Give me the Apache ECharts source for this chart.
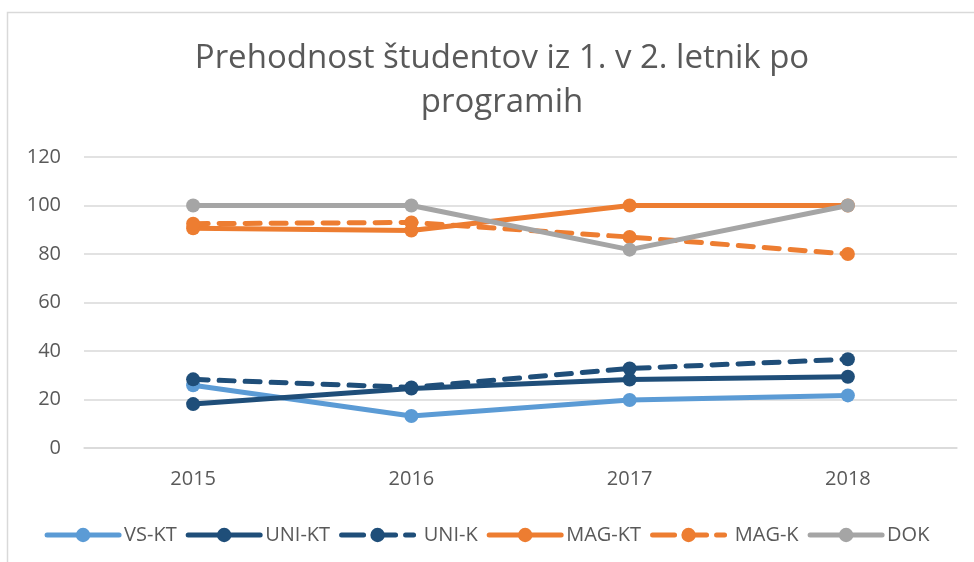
<!DOCTYPE html>
<html>
<head>
<meta charset="utf-8">
<script src="https://cdn.jsdelivr.net/npm/echarts@6/dist/echarts.min.js"></script>
<style>
  html, body { margin: 0; padding: 0; background: #fff; }
  #chart { width: 974px; height: 562px; }
</style>
</head>
<body>
<div id="chart"></div>
<script>
const years = ['2015', '2016', '2017', '2018']
const vsKt = [25.9, 13.2, 19.8, 21.7]
const uniKt = [18.1, 24.5, 28.2, 29.4]
const uniK = [28.3, 25.0, 32.8, 36.6]
const magKt = [90.6, 89.7, 100, 100]
const magK = [92.5, 93.0, 87.0, 80.0]
const dok = [100, 100, 81.8, 100]
const yTicks = [0, 20, 40, 60, 80, 100, 120]

const chart = echarts.init(document.getElementById('chart'))

const mkLine = (name, data, color, dashed) => ({
  name,
  type: 'line',
  data,
  symbol: 'circle',
  symbolSize: 14,
  lineStyle: { width: 5, color, type: dashed ? [15, 11] : 'solid', cap: 'round' },
  itemStyle: { color },
  emphasis: { disabled: true }
})

const legendItem = (name, dashed) => ({
  name,
  lineStyle: { width: 5, type: dashed ? [22, 10] : 'solid', cap: 'round' }
})

const option = {
  animation: false,
  textStyle: { fontFamily: 'Open Sans, Noto Sans, sans-serif' },
  title: {
    text: 'Prehodnost študentov iz 1. v 2. letnik po\nprogramih',
    left: 497,
    textAlign: 'center',
    top: 32,
    textStyle: { fontSize: 33, fontWeight: 'normal', color: '#595959', lineHeight: 44 }
  },
  graphic: [{
    type: 'rect',
    shape: { x: 7.5, y: 12.5, width: 1000, height: 600 },
    style: { fill: 'none', stroke: '#d9d9d9', lineWidth: 1.5 },
    silent: true
  }],
  legend: {
    top: 520,
    left: 'center',
    itemWidth: 72,
    itemHeight: 18,
    itemGap: 9,
    textStyle: { fontSize: 20, color: '#595959' },
    data: [
      legendItem('VS-KT', false),
      legendItem('UNI-KT', false),
      legendItem(' UNI-K', true),
      legendItem('MAG-KT', false),
      legendItem(' MAG-K', true),
      legendItem('DOK', false)
    ]
  },
  grid: { left: 84, right: 17, top: 157, bottom: 114 },
  xAxis: {
    type: 'category',
    data: years,
    boundaryGap: true,
    axisLine: { lineStyle: { color: '#d9d9d9', width: 1.5 } },
    axisTick: { show: false },
    axisLabel: { color: '#595959', fontSize: 20, margin: 21 }
  },
  yAxis: {
    type: 'value',
    min: yTicks[0],
    max: yTicks[yTicks.length - 1],
    interval: 20,
    axisLine: { show: false },
    axisTick: { show: false },
    splitLine: { lineStyle: { color: '#d9d9d9', width: 1.5 } },
    axisLabel: { color: '#595959', fontSize: 20, margin: 23 }
  },
  series: [
    mkLine('VS-KT', vsKt, '#5b9bd5', false),
    mkLine('UNI-KT', uniKt, '#1f4e79', false),
    mkLine(' UNI-K', uniK, '#1f4e79', true),
    mkLine('MAG-KT', magKt, '#ed7d31', false),
    mkLine(' MAG-K', magK, '#ed7d31', true),
    mkLine('DOK', dok, '#a5a5a5', false)
  ]
}

chart.setOption(option)
</script>
</body>
</html>
